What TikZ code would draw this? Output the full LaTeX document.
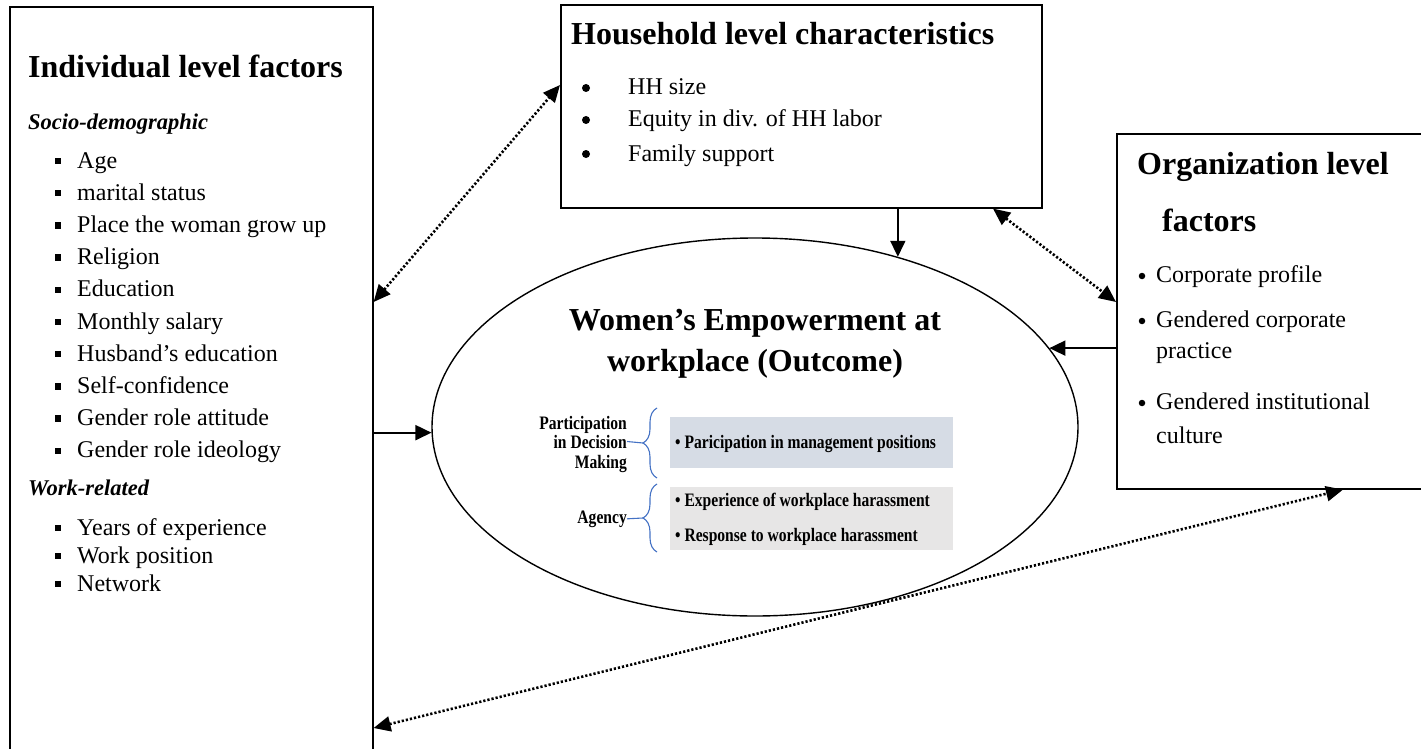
\documentclass[tikz,border=0pt]{standalone}
\usepackage{fontspec}
\setmainfont{Liberation Serif}
\newfontfamily\narrowfont[FakeStretch=0.82]{Liberation Serif}
\usepackage{tikz}
\usetikzlibrary{arrows.meta,shapes.geometric,decorations.pathreplacing,positioning,calc}

\definecolor{pdmblue}{HTML}{D6DCE5}
\definecolor{agencygrey}{HTML}{E7E6E6}
\definecolor{bracecol}{HTML}{4472C4}

\tikzset{
  box/.style={draw, line width=1.6pt, inner sep=0, anchor=north west},
  head/.style={anchor=base west, inner sep=0, font=\fontsize{32}{38}\selectfont\bfseries},
  subhead/.style={anchor=base west, inner sep=0, font=\fontsize{22.5}{27}\selectfont\bfseries\itshape},
  item/.style={anchor=base west, inner sep=0, font=\fontsize{24}{28}\selectfont},
  sqbullet/.style={fill, minimum size=6.5pt, inner sep=0},
  dotbullet/.style={circle, fill, minimum size=#1, inner sep=0},
  small/.style={inner sep=0, font=\narrowfont\fontsize{19}{19.5}\selectfont\bfseries},
  brace/.style={decorate, decoration={brace, amplitude=14pt}, bracecol, line width=1.1pt},
  oneway/.style={line width=1.8pt, -{Triangle[length=16pt,width=15pt]}},
  twoway/.style={line width=2.6pt, dash pattern=on 2.2pt off 2pt,
    {Triangle[length=17pt,width=15pt]}-{Triangle[length=17pt,width=15pt]}}
}

\begin{document}
\begin{tikzpicture}[x=1pt, y=-1pt]
\useasboundingbox (0,0) rectangle (1421,749);
\clip (0,0) rectangle (1421,749);

% the four blocks
\node[box, minimum width=363pt, minimum height=770pt] (ind) at (9,6) {};
\node[box, minimum width=481pt, minimum height=203pt] (hh) at (560,4) {};
\node[box, minimum width=360pt, minimum height=355pt] (org) at (1116,133) {};
\node[draw, ellipse, line width=1.4pt, inner sep=0, minimum width=646pt, minimum height=378pt] (outcome) at (755,427) {};

% individual level
\node[head] (indtitle) at (28,78) {Individual level factors};
\node[subhead] (socio) at (28,129) {Socio-demographic};
\foreach \txt [count=\i] in {Age, marital status, Place the woman grow up, Religion, Education,
    Monthly salary, Husband’s education, Self-confidence, Gender role attitude, Gender role ideology} {
  \node[sqbullet] (sb\i) at (58,128.8+32.2*\i) {};
  \node[item] (si\i) at (77,135.8+32.2*\i) {\txt};
}
\node[subhead] (work) at (28,495) {Work-related};
\foreach \txt/\y [count=\i] in {Years of experience/535, Work position/563, Network/591} {
  \node[sqbullet] (wb\i) at (58,\y-7) {};
  \node[item] (wi\i) at (77,\y) {\txt};
}

% household level
\node[head] (hhtitle) at (571,45) {Household level characteristics};
\foreach \txt/\y [count=\i] in {HH size/95, Equity in div. of HH labor/127, Family support/161} {
  \node[dotbullet=8pt] (hb\i) at (586,\y-7) {};
  \node[item] (hi\i) at (628,\y) {\txt};
}

% organization level
\node[head] (orgtitle) at (1137,174) {Organization level};
\node[head] (orgtitle2) at (1162,231) {factors};
\node[dotbullet=6.5pt] (ob1) at (1142,276) {};
\node[item] (oi1) at (1156,282) {Corporate profile};
\node[dotbullet=6.5pt] (ob2) at (1142,321) {};
\node[item] (oi2) at (1156,327) {Gendered corporate};
\node[item] (oi2b) at (1156,358) {practice};
\node[dotbullet=6.5pt] (ob3) at (1142,403) {};
\node[item] (oi3) at (1156,409) {Gendered institutional};
\node[item] (oi3b) at (1156,443) {culture};

% outcome
\node[anchor=base, inner sep=0, font=\fontsize{32}{42}\selectfont\bfseries] (wtitle) at (755,330)
  {Women’s Empowerment at};
\node[anchor=base, inner sep=0, font=\fontsize{32}{42}\selectfont\bfseries] (wtitle2) at (755,371)
  {workplace (Outcome)};
\node[fill=pdmblue, inner sep=0, anchor=north west, minimum width=283pt, minimum height=51pt] (pdmbox) at (670,417) {};
\node[fill=agencygrey, inner sep=0, anchor=north west, minimum width=283pt, minimum height=63pt] (agbox) at (670,487) {};
\node[small, anchor=base west] (pdm1) at (675,448) {• Paricipation in management positions};
\node[small, anchor=base west] (ag1) at (675,506) {• Experience of workplace harassment};
\node[small, anchor=base west] (ag2) at (675,541) {• Response to workplace harassment};
\node[small, anchor=base east] (pdma) at (627,429) {Participation};
\node[small, anchor=base east] (pdm) at (627,448) {in Decision};
\node[small, anchor=base east] (pdmc) at (627,468) {Making};
\node[small, anchor=base east] (agency) at (627,523) {Agency};
\coordinate (tip1) at (643,443);
\coordinate (tip2) at (643,518);
\draw[brace] (657,478) -- (657,408);
\draw[brace] (657,552) -- (657,484);
\draw[bracecol, line width=1.1pt] (pdm.east) -- (tip1);
\draw[bracecol, line width=1.1pt] (agency.east) -- (tip2);

% links
\draw[oneway] (hh.south -| outcome.50) -- (outcome.50);
\draw[oneway] (org.west |- outcome.15) -- (outcome.15);
\draw[oneway] (ind.east |- outcome.181) -- (outcome.181);
\draw[twoway] (ind.east |- 0,302) -- (hh.west |- 0,85);
\draw[twoway] (hh.south -| 993,0) -- (org.west |- 0,302);
\draw[twoway] (ind.east |- 0,728) -- (org.south -| 1343,0);
\end{tikzpicture}
\end{document}
